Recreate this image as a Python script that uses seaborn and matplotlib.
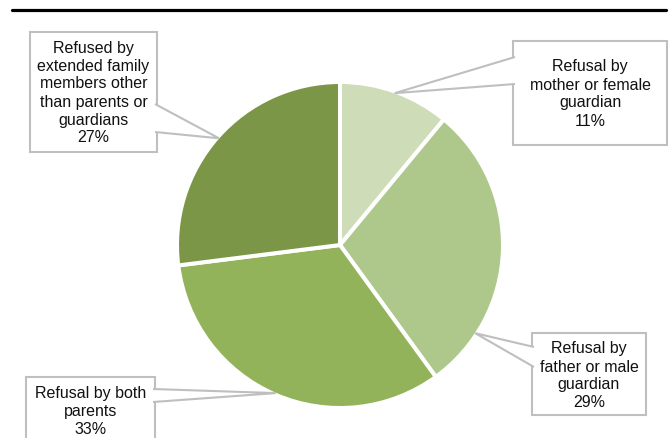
import matplotlib
matplotlib.use("Agg")
import matplotlib.pyplot as plt
from matplotlib.patches import Rectangle, Polygon
from matplotlib.lines import Line2D
import numpy as np
import seaborn as sns

# slices, clockwise from 12 o'clock
labels = ["Refusal by\nmother or female\nguardian",
          "Refusal by\nfather or male\nguardian",
          "Refusal by both\nparents",
          "Refused by\nextended family\nmembers other\nthan parents or\nguardians"]
shares = [11, 29, 33, 27]
colors = ["#cedcb7", "#adc88a", "#93b35a", "#7b9646"]

W, H = 671, 439
sns.set_style("white")
plt.rcParams["font.family"] = ["Liberation Sans", "DejaVu Sans"]

fig = plt.figure(figsize=(W / 100, H / 100), dpi=100)
ax = fig.add_axes([0, 0, 1, 1])

# pie geometry in pixels (outer white stroke eats ~2px)
R = 163
cx, cy = 340, 246

wedges, _ = ax.pie(shares, colors=sns.color_palette(colors), startangle=90,
                   counterclock=False, radius=1,
                   wedgeprops=dict(edgecolor="white", linewidth=2.9))
ax.set_aspect("auto")
ax.set_xlim(-cx / R, (W - cx) / R)
ax.set_ylim(-(H - cy) / R, cy / R)
ax.axis("off")


def px(x, y):
    # image pixel (from top-left) -> figure fraction
    return (x / W, 1 - y / H)


# callout boxes: x0, y0, x1, y1, side of pointer, pointer base y range, position along wedge, text y
callouts = [
    (513, 42, 667, 146, "left", 58, 85, 0.5, 94),
    (532, 334, 646, 416, "left", 348, 368, 0.8, 376),
    (26, 378, 155, 445, "right", 390, 403, 0.5, 412),
    (30, 33, 157, 153, "right", 105, 133, 0.5, 93),
]

to_fig = fig.transFigure.inverted()
for w, lab, pct, (x0, y0, x1, y1, side, ya, yb, f, ty) in zip(wedges, labels, shares, callouts):
    ang = np.deg2rad(w.theta2 - f * (w.theta2 - w.theta1))
    tip = to_fig.transform(ax.transData.transform((0.99 * np.cos(ang), 0.99 * np.sin(ang))))

    box = Rectangle(px(x0, y1), (x1 - x0) / W, (y1 - y0) / H, transform=fig.transFigure,
                    facecolor="white", edgecolor="#bfbfbf", linewidth=1.5, zorder=3)
    fig.add_artist(box)

    xb = x0 + 2 if side == "left" else x1 - 2
    ptr = Polygon([px(xb, ya), tip, px(xb, yb)], closed=False, transform=fig.transFigure,
                  facecolor="white", edgecolor="#bfbfbf", linewidth=1.5, zorder=4)
    fig.add_artist(ptr)

    fig.text((x0 + x1) / 2 / W, 1 - ty / H, "%s\n%d%%" % (lab, pct), ha="center", va="center",
             fontsize=11.5, color="#111111", linespacing=1.25, zorder=5)

# rule across the top
fig.add_artist(Line2D([12 / W, 666 / W], [1 - 11 / H] * 2, transform=fig.transFigure,
                      color="black", linewidth=2.3))

fig.savefig("out.png", dpi=100)
